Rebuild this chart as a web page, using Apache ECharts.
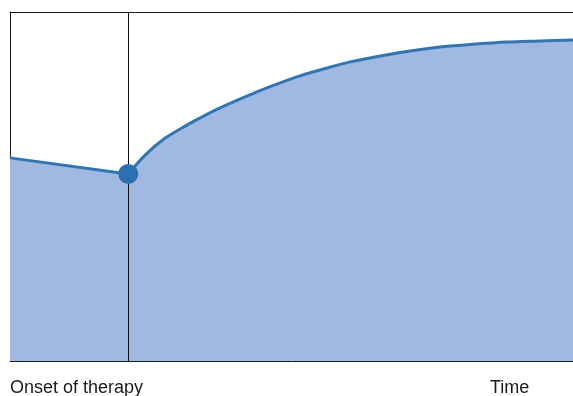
<!DOCTYPE html>
<html>
<head>
<meta charset="utf-8">
<script src="https://cdn.jsdelivr.net/npm/echarts@6/dist/echarts.min.js"></script>
<style>
  html, body { margin: 0; padding: 0; background: #fff; }
  #chart { width: 573px; height: 396px; }
</style>
</head>
<body>
<div id="chart"></div>
<script>
// time runs 0..100, therapy starts at 21
const onset = 21;
const beforeTherapy = [[0, 58.2], [21, 53.6]];
const afterTherapy = [
  [21, 53.6], [24.0, 59.0], [27.5, 63.8], [31.1, 67.3], [33.7, 69.6],
  [37.3, 72.5], [40.9, 75.1], [44.4, 77.5], [48.0, 79.7], [51.5, 81.7],
  [56.0, 83.8], [60.4, 85.7], [64.8, 87.1], [69.3, 88.4], [76.4, 90.0],
  [81.7, 90.7], [88.3, 91.4], [94.1, 91.7], [100, 92.0]
];
const labels = ['Onset of therapy', 'Time'];

const fill = '#a1b8e0';
const stroke = '#2f76b9';
const frame = { show: true, lineStyle: { color: '#1a1a1a', width: 1 } };
const bare = {
  type: 'value', min: 0, max: 100,
  axisTick: { show: false }, axisLabel: { show: false }, splitLine: { show: false }
};

const chart = echarts.init(document.getElementById('chart'));
chart.setOption({
  animation: false,
  grid: { left: 10, right: 0, top: 12, bottom: 35 },
  xAxis: [
    Object.assign({}, bare, { position: 'bottom', axisLine: frame }),
    Object.assign({}, bare, { position: 'top', axisLine: frame })
  ],
  yAxis: Object.assign({}, bare, { axisLine: frame }),
  series: [
    {
      type: 'line', data: beforeTherapy, symbol: 'none',
      lineStyle: { color: stroke, width: 3 },
      areaStyle: { color: fill, opacity: 1 }
    },
    {
      type: 'line', data: afterTherapy, symbol: 'none', smooth: 0.25,
      lineStyle: { color: stroke, width: 3, join: 'round' },
      areaStyle: { color: fill, opacity: 1 },
      markLine: {
        silent: true, symbol: 'none', label: { show: false },
        lineStyle: { color: '#111', width: 1, type: 'solid' },
        data: [{ xAxis: onset }]
      }
    },
    {
      type: 'scatter', data: [afterTherapy[0]], symbolSize: 20,
      itemStyle: { color: '#2a70b3', opacity: 1 }, z: 5
    }
  ],
  graphic: [
    {
      type: 'text', left: 10, top: 379,
      style: { text: labels[0], font: '18px "Liberation Sans", Arial, sans-serif', fill: '#1a1a1a' }
    },
    {
      type: 'text', left: 490, top: 379,
      style: { text: labels[1], font: '18px "Liberation Sans", Arial, sans-serif', fill: '#1a1a1a' }
    }
  ]
});
</script>
</body>
</html>
